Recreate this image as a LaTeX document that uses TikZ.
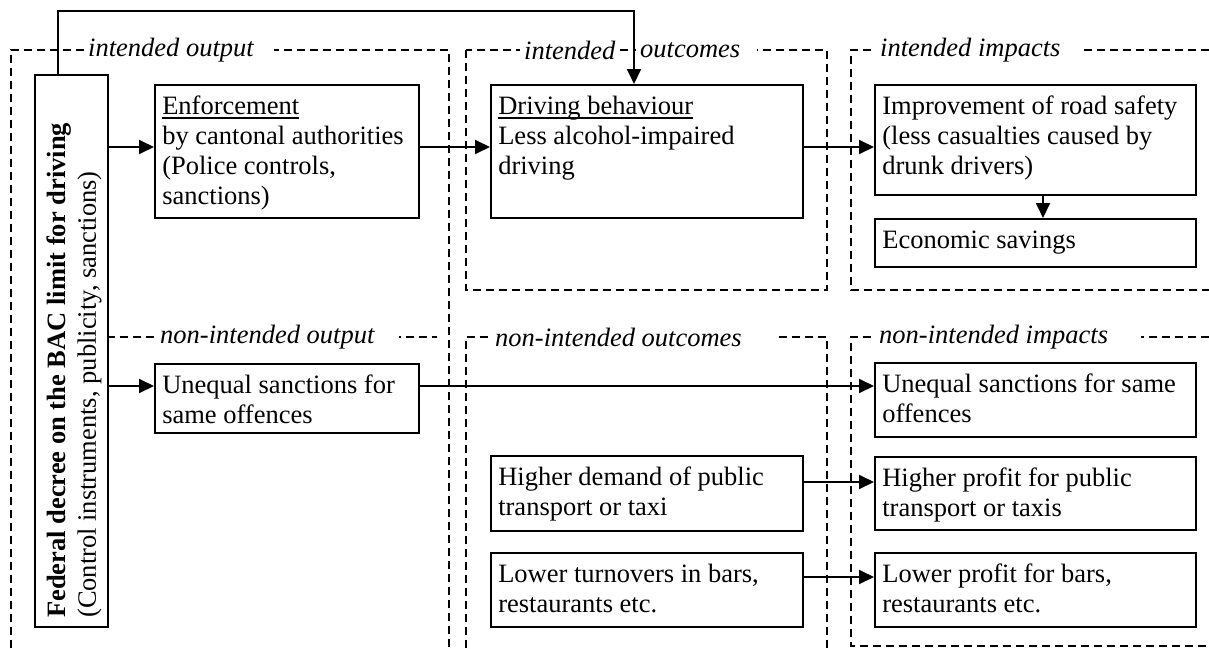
\documentclass[tikz,border=0pt]{standalone}
\usepackage{fontspec}
\setmainfont{Liberation Serif}
\usetikzlibrary{arrows.meta}
\newcommand\tb[3]{\parbox[c][#2pt][t]{#1pt}{\raggedright\leftskip=7.5pt\rule{0pt}{30pt}#3}}
\newcommand\ulx[1]{\setbox0\hbox{#1}\rlap{\rule[-4pt]{\wd0}{1.8pt}}\box0}
\newcommand\pad[1]{\rule{#1pt}{0pt}}
\begin{document}
\begin{tikzpicture}[x=1pt,y=-1pt,
  every node/.style={font=\fontsize{26.5}{30}\selectfont},
  region/.style={line width=1.3pt, dash pattern=on 8pt off 5pt},
  box/.style={draw, line width=1.6pt, inner sep=0pt, anchor=north west, fill=white},
  lab/.style={fill=white, inner xsep=4pt, inner ysep=1pt, anchor=west, font=\fontsize{26.5}{30}\selectfont\itshape},
  arr/.style={line width=1.8pt, -{Triangle[length=15pt,width=14pt]}}]
\useasboundingbox (0,0) rectangle (1209,648);

% dashed regions
\draw[region] (11,648) -- (11,50) -- (449,50) -- (449,648);
\draw[region] (107,337) -- (437,337);
\draw[region] (466,50) rectangle (827,290);
\draw[region] (466,648) -- (466,337) -- (827,337) -- (827,648);
\draw[region] (1209,50) -- (851,50) -- (851,290) -- (1209,290);
\draw[region] (1209,337) -- (851,337) -- (851,646) -- (1209,646);

% region labels
\node[lab] (lo) at (84,50) {intended output\pad{16}};
\node[lab] (lio1) at (520,50) {intended};
\node[lab] (lio2) at (636,50) {outcomes\pad{13}};
\node[lab] (lii) at (876,50) {intended impacts\pad{19}};
\node[lab] (lno) at (156,337) {non-intended output\pad{21}};
\node[lab] (lnoc) at (491,337) {non-intended outcomes\pad{33}};
\node[lab] (lni) at (875,337) {non-intended impacts\pad{29}};

% federal decree box
\node[box, minimum width=73pt, minimum height=552pt] (fed) at (34,74) {};
\node[rotate=90, anchor=north west, align=left, inner sep=0pt] (fedtext) at (47,618)
  {\textbf{Federal decree on the BAC limit for driving}\\(Control instruments, publicity, sanctions)};

% boxes
\node[box] (enf) at (154,84) {\tb{264}{133}{\ulx{Enforcement}\\by cantonal authorities\\(Police controls,\\sanctions)}};
\node[box] (drive) at (490,84) {\tb{312}{133}{\ulx{Driving behaviour}\\Less alcohol-impaired\\driving}};
\node[box] (imp) at (874,84) {\tb{321}{110}{Improvement of road safety\\(less casualties caused by\\drunk drivers)}};
\node[box] (eco) at (874,218) {\tb{321}{48}{Economic savings}};
\node[box] (uneqo) at (154,363) {\tb{264}{69}{Unequal sanctions for\\same offences}};
\node[box] (uneqi) at (874,362) {\tb{321}{74}{Unequal sanctions for same\\offences}};
\node[box] (highd) at (490,455) {\tb{312}{75}{Higher demand of public\\transport or taxi}};
\node[box] (highp) at (874,456) {\tb{321}{73}{Higher profit for public\\transport or taxis}};
\node[box] (lowt) at (490,552) {\tb{312}{74}{Lower turnovers in bars,\\restaurants etc.}};
\node[box] (lowp) at (874,552) {\tb{321}{74}{Lower profit for bars,\\restaurants etc.}};

% connectors
\coordinate (tl) at (58,11);
\coordinate (tr) at (634,11);
\draw[arr] (fed.north -| tl) -- (tl) -- (tr) -- (tr |- drive.north);
\coordinate (r1) at (0,147);
\coordinate (r2) at (0,386);
\coordinate (r3) at (0,482);
\coordinate (r4) at (0,577);
\coordinate (ec) at (1043,0);
\draw[arr] (fed.east |- r1) -- (enf.west |- r1);
\draw[arr] (enf.east |- r1) -- (drive.west |- r1);
\draw[arr] (drive.east |- r1) -- (imp.west |- r1);
\draw[arr] (imp.south -| ec) -- (eco.north -| ec);
\draw[arr] (fed.east |- r2) -- (uneqo.west |- r2);
\draw[arr] (uneqo.east |- r2) -- (uneqi.west |- r2);
\draw[arr] (highd.east |- r3) -- (highp.west |- r3);
\draw[arr] (lowt.east |- r4) -- (lowp.west |- r4);
\end{tikzpicture}
\end{document}
